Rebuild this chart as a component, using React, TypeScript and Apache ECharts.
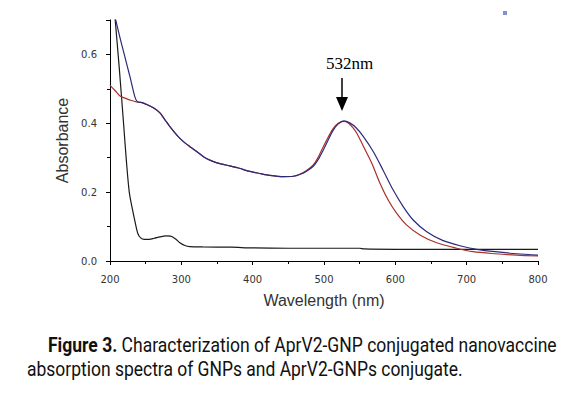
import React, { useEffect, useRef } from "react";
import * as echarts from "echarts";

const wlBlack = [207, 213, 219, 223, 227, 231, 235, 239, 243, 248, 255, 262, 270, 278, 285, 292, 298, 305, 312, 330, 370, 400, 450, 550, 556, 600, 700, 800];
const absBlack = [0.707, 0.56, 0.4, 0.29, 0.2, 0.155, 0.115, 0.08, 0.067, 0.063, 0.063, 0.066, 0.07, 0.073, 0.072, 0.064, 0.053, 0.045, 0.042, 0.041, 0.04, 0.038, 0.037, 0.037, 0.035, 0.034, 0.034, 0.034];

const wlRed = [200, 207, 214, 222, 230, 237, 245, 256, 263, 270, 277, 284, 291, 298, 305, 312, 320, 331, 340, 350, 360, 368, 380, 396, 410, 420, 443, 457, 466, 475, 485, 492, 499, 506, 513, 520, 527, 534, 541, 546, 555, 567, 578, 590, 602, 616, 635, 658, 686, 709, 740, 770, 800];
const absRed = [0.51, 0.495, 0.479, 0.472, 0.466, 0.462, 0.46, 0.45, 0.442, 0.43, 0.41, 0.39, 0.372, 0.356, 0.343, 0.332, 0.32, 0.303, 0.293, 0.285, 0.28, 0.276, 0.27, 0.26, 0.254, 0.25, 0.245, 0.246, 0.252, 0.262, 0.279, 0.302, 0.332, 0.36, 0.385, 0.4, 0.405, 0.401, 0.386, 0.371, 0.334, 0.284, 0.228, 0.177, 0.138, 0.104, 0.075, 0.053, 0.037, 0.027, 0.021, 0.017, 0.0145];

const wlBlue = [208, 212, 216, 220, 224, 228, 232, 236, 240, 245, 256, 263, 270, 277, 284, 291, 298, 305, 312, 320, 331, 340, 350, 360, 368, 380, 396, 410, 420, 443, 457, 466, 475, 485, 492, 499, 506, 513, 520, 528, 536, 545, 555, 569, 583, 597, 611, 625, 644, 667, 695, 714, 740, 770, 800];
const absBlue = [0.7, 0.665, 0.632, 0.6, 0.567, 0.535, 0.5, 0.47, 0.461, 0.46, 0.45, 0.442, 0.43, 0.41, 0.39, 0.372, 0.356, 0.343, 0.332, 0.32, 0.303, 0.293, 0.285, 0.28, 0.276, 0.27, 0.26, 0.254, 0.25, 0.245, 0.246, 0.251, 0.26, 0.275, 0.295, 0.322, 0.352, 0.38, 0.398, 0.407, 0.401, 0.387, 0.362, 0.318, 0.263, 0.206, 0.158, 0.119, 0.085, 0.059, 0.042, 0.034, 0.027, 0.021, 0.017];

const xTicks = { min: 200, max: 800, interval: 100 };
const yTicks = { min: 0, max: 0.7, interval: 0.2 };

const peakLabel = "532nm";
const captionBold = "Figure 3.";
const captionLine1 = " Characterization of AprV2-GNP conjugated nanovaccine";
const captionLine2 = "absorption spectra of GNPs and AprV2-GNPs conjugate.";

const pairs = (xs: number[], ys: number[]) => xs.map((x, i) => [x, ys[i]]);

const CAP_FONT = "Roboto";
const CAP_SIZE = 20;

function measure(font: string, text: string) {
  const c = document.createElement("canvas");
  const ctx = c.getContext("2d");
  if (!ctx) return text.length * 9;
  ctx.font = font;
  return ctx.measureText(text).width;
}

export default function App() {
  const ref = useRef<HTMLDivElement>(null);
  useEffect(() => {
    if (!ref.current) return;
    const chart = echarts.init(ref.current, undefined, { renderer: "svg" });
    const axisLabelStyle = { color: "#333", fontSize: 10, fontFamily: "DejaVu Sans" };
    const w1 =
      measure(`bold ${CAP_SIZE}px ${CAP_FONT}`, captionBold) +
      measure(`${CAP_SIZE}px ${CAP_FONT}`, captionLine1);
    const w2 = measure(`${CAP_SIZE}px ${CAP_FONT}`, captionLine2);
    const s1 = 509 / w1;
    const s2 = 436 / w2;
    chart.setOption({
      animation: false,
      backgroundColor: "#ffffff",
      grid: { left: 110, right: 47, top: 19.9, bottom: 132, containLabel: false },
      xAxis: {
        type: "value",
        min: xTicks.min,
        max: xTicks.max,
        interval: xTicks.interval,
        name: "Wavelength (nm)",
        nameLocation: "middle",
        nameGap: 31,
        nameTextStyle: { color: "#333", fontSize: 16, fontFamily: "Liberation Sans" },
        axisLine: { show: true, lineStyle: { color: "#000", width: 1 } },
        axisTick: { show: true, length: 4, lineStyle: { color: "#000" } },
        minorTick: { show: true, splitNumber: 2, length: 3, lineStyle: { color: "#000" } },
        axisLabel: { ...axisLabelStyle, margin: 13 },
        splitLine: { show: false },
      },
      yAxis: {
        type: "value",
        min: yTicks.min,
        max: yTicks.max,
        interval: yTicks.interval,
        name: "Absorbance",
        nameLocation: "middle",
        nameGap: 32,
        nameTextStyle: { color: "#333", fontSize: 16, fontFamily: "Liberation Sans" },
        axisLine: { show: true, lineStyle: { color: "#000", width: 1 } },
        axisTick: { show: true, length: 4, lineStyle: { color: "#000" } },
        minorTick: { show: true, splitNumber: 2, length: 3, lineStyle: { color: "#000" } },
        axisLabel: {
          ...axisLabelStyle,
          margin: 13,
          showMaxLabel: false,
          formatter: (v: number) => v.toFixed(1),
        },
        splitLine: { show: false },
      },
      series: [
        {
          type: "line",
          data: pairs(wlBlack, absBlack),
          showSymbol: false,
          smooth: 0.3,
          lineStyle: { color: "#1a1a1a", width: 1.2 },
        },
        {
          type: "line",
          data: pairs(wlRed, absRed),
          showSymbol: false,
          smooth: 0.3,
          lineStyle: { color: "#a8302c", width: 1.2 },
        },
        {
          type: "line",
          data: pairs(wlBlue, absBlue),
          showSymbol: false,
          smooth: 0.3,
          lineStyle: { color: "#2b2a7a", width: 1.2 },
        },
      ],
      graphic: [
        {
          type: "text",
          left: 326,
          top: 55,
          style: { text: peakLabel, font: "17px 'Liberation Serif', serif", fill: "#000" },
        },
        {
          type: "line",
          shape: { x1: 342, y1: 78, x2: 342, y2: 98 },
          style: { stroke: "#000", lineWidth: 1.5 },
        },
        {
          type: "polygon",
          shape: { points: [[336, 97], [348, 97], [342, 111]] },
          style: { fill: "#000" },
        },
        {
          type: "rect",
          shape: { x: 503, y: 11, width: 4, height: 4 },
          style: { fill: "#8093cf" },
        },
        {
          type: "text",
          x: 48,
          y: 336,
          scaleX: s1,
          style: {
            text: "{b|" + captionBold + "}" + captionLine1,
            font: `${CAP_SIZE}px ${CAP_FONT}`,
            fill: "#111",
            rich: { b: { fontWeight: "bold", fontSize: CAP_SIZE, fontFamily: CAP_FONT, fill: "#111" } },
          },
        },
        {
          type: "text",
          x: 27,
          y: 360,
          scaleX: s2,
          style: { text: captionLine2, font: `${CAP_SIZE}px ${CAP_FONT}`, fill: "#111" },
        },
      ],
    });
    return () => chart.dispose();
  }, []);
  return (
    <div
      ref={ref}
      style={{ position: "fixed", left: 0, top: 0, width: 585, height: 393, background: "#fff" }}
    />
  );
}
